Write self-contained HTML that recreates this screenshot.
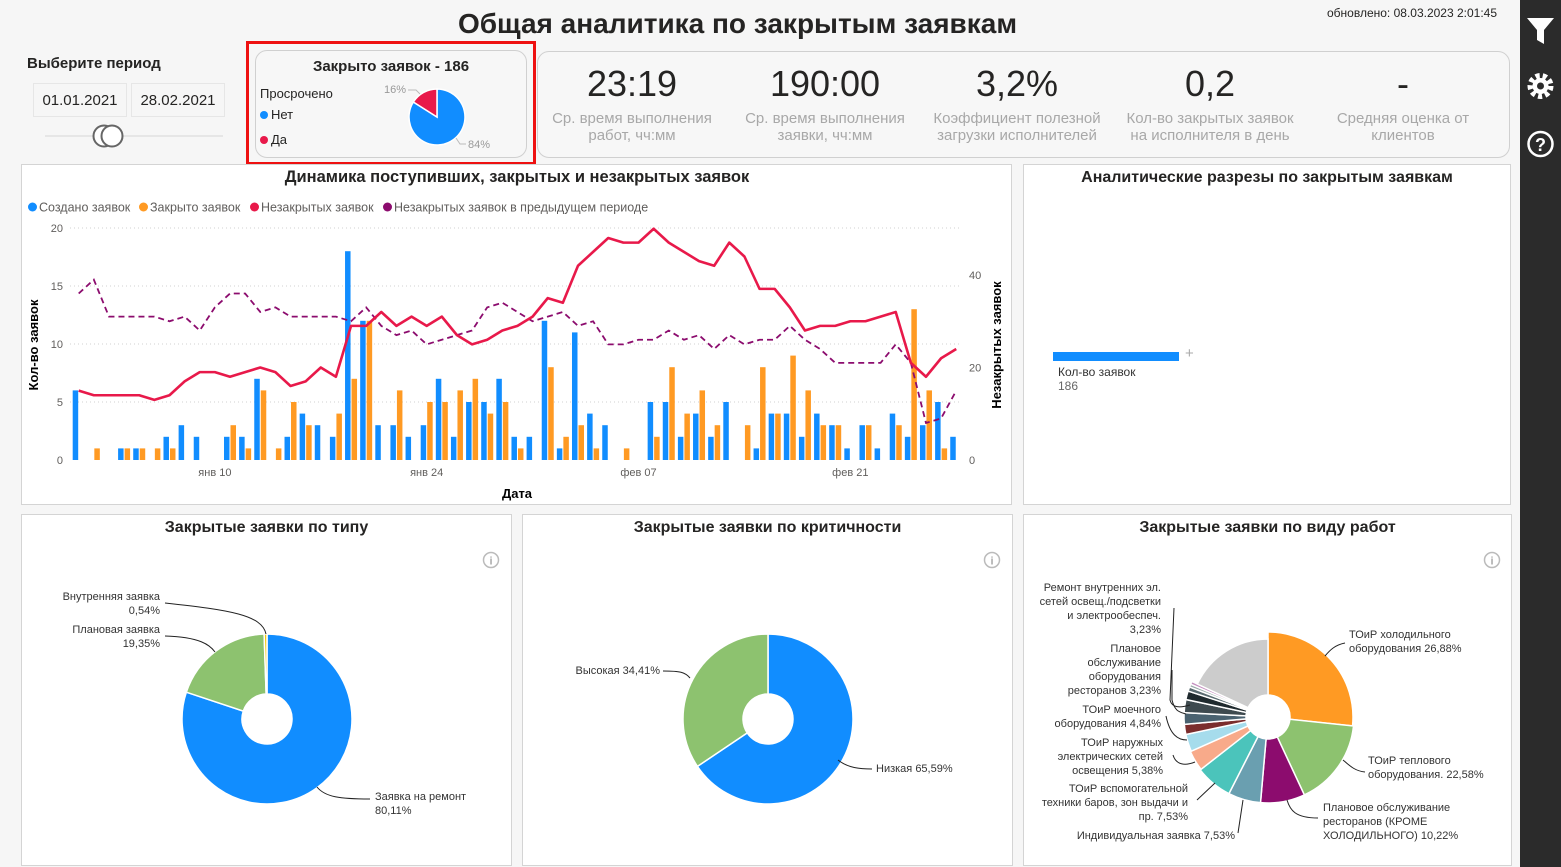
<!DOCTYPE html>
<html><head><meta charset="utf-8">
<style>
body{margin:0;width:1561px;height:867px;background:#f6f6f6;position:relative;overflow:hidden;font-family:"Liberation Sans","Noto Sans CJK SC",sans-serif;color:#252423}
.abs{position:absolute}
.panel{position:absolute;background:#fff;border:1px solid #d4d4d4}
.ptitle{position:absolute;left:0;right:0;text-align:center;font-weight:bold;font-size:16px;top:4px}
.kv{position:absolute;width:190px;text-align:center;font-family:"Liberation Sans Narrow","Liberation Sans",sans-serif}
.kv .v{font-size:36px;color:#252423;line-height:40px}
.kv .l{font-size:15px;color:#a8a8a8;line-height:17px;margin-top:6px}
.dot{display:inline-block;width:8px;height:8px;border-radius:50%;margin-right:3px;vertical-align:0px}
svg text{font-family:"Liberation Sans","Noto Sans CJK SC",sans-serif}
</style></head><body>
<div class="abs" style="left:0;width:1475px;top:8px;text-align:center;font-size:28px;font-weight:bold">Общая аналитика по закрытым заявкам</div>
<div class="abs" style="left:1327px;top:6px;font-size:12px;font-family:'Liberation Sans Narrow','Liberation Sans',sans-serif">обновлено: 08.03.2023 2:01:45</div>

<div class="abs" style="left:1520px;top:0;width:41px;height:867px;background:#2b2b2b"></div>
<svg class="abs" style="left:1520px;top:0" width="41" height="170">
 <g><path d="M7 18 H34 L24 30 V44 L17 40 V30 Z" fill="#fff"/></g>
 <g><circle cx="20.5" cy="86" r="10" fill="none" stroke="#fff" stroke-width="6" stroke-dasharray="4 3"/><circle cx="20.5" cy="86" r="8" fill="#fff"/><circle cx="20.5" cy="86" r="3.5" fill="#2b2b2b"/></g>
 <g><circle cx="20.5" cy="144" r="12" fill="none" stroke="#fff" stroke-width="2.5"/><text x="20.5" y="151" text-anchor="middle" fill="#fff" font-size="18" font-weight="bold">?</text></g>
</svg>

<div class="abs" style="left:27px;top:55px;font-size:15px;font-weight:bold">Выберите период</div>
<div class="abs" style="left:33px;top:83px;width:92px;height:32px;border:1px solid #e6e6e6;font-size:15px;line-height:34px;text-align:center">01.01.2021</div>
<div class="abs" style="left:131px;top:83px;width:92px;height:32px;border:1px solid #e6e6e6;font-size:15px;line-height:34px;text-align:center">28.02.2021</div>
<svg class="abs" style="left:40px;top:122px" width="190" height="30">
 <line x1="5" y1="14" x2="183" y2="14" stroke="#e6e6e6" stroke-width="2"/>
 <circle cx="64" cy="14" r="10.5" fill="#fff" stroke="#666" stroke-width="2"/>
 <circle cx="72" cy="14" r="10.5" fill="#fff" stroke="#666" stroke-width="2"/>
</svg>

<div class="abs" style="left:246px;top:41px;width:284px;height:118px;border:3px solid #ee1111"></div>
<div class="abs" style="left:255px;top:50px;width:270px;height:106px;border:1px solid #d0d0d0;border-radius:12px;background:#f7f7f7"></div>
<div class="abs" style="left:255px;width:272px;top:58px;text-align:center;font-weight:bold;font-size:15px">Закрыто заявок - 186</div>
<div class="abs" style="left:260px;top:86px;font-size:13px">Просрочено</div>
<div class="abs" style="left:260px;top:107px;font-size:13px"><span class="dot" style="background:#118dff"></span>Нет</div>
<div class="abs" style="left:260px;top:132px;font-size:13px"><span class="dot" style="background:#e8194a"></span>Да</div>
<svg class="abs" style="left:380px;top:78px" width="140" height="80" id="minipie"></svg>

<div class="abs" style="left:537px;top:51px;width:971px;height:105px;border:1px solid #d0d0d0;border-radius:12px;background:#f7f7f7"></div>
<div class="kv" style="left:537px;top:64px"><div class="v">23:19</div><div class="l">Ср. время выполнения<br>работ, чч:мм</div></div>
<div class="kv" style="left:730px;top:64px"><div class="v">190:00</div><div class="l">Ср. время выполнения<br>заявки, чч:мм</div></div>
<div class="kv" style="left:922px;top:64px"><div class="v">3,2%</div><div class="l">Коэффициент полезной<br>загрузки исполнителей</div></div>
<div class="kv" style="left:1115px;top:64px"><div class="v">0,2</div><div class="l">Кол-во закрытых заявок<br>на исполнителя в день</div></div>
<div class="kv" style="left:1308px;top:64px"><div class="v">-</div><div class="l">Средняя оценка от<br>клиентов</div></div>

<div class="panel" style="left:21px;top:164px;width:989px;height:339px"></div>
<svg class="abs" style="left:0;top:0" width="1020" height="510" id="main"></svg>

<div class="panel" style="left:1023px;top:164px;width:486px;height:339px">
 <div class="ptitle">Аналитические разрезы по закрытым заявкам</div>
 <div class="abs" style="left:29px;top:187px;width:126px;height:9px;background:#118dff"></div>
 <div class="abs" style="left:161px;top:180px;color:#aaa;font-size:15px">+</div>
 <div class="abs" style="left:34px;top:200px;font-size:12px;color:#333;line-height:14px">Кол-во заявок<br><span style="color:#666">186</span></div>
</div>

<div class="panel" style="left:21px;top:514px;width:489px;height:350px"><div class="ptitle">Закрытые заявки по типу</div></div>
<div class="panel" style="left:522px;top:514px;width:489px;height:350px"><div class="ptitle">Закрытые заявки по критичности</div></div>
<div class="panel" style="left:1023px;top:514px;width:487px;height:350px"><div class="ptitle">Закрытые заявки по виду работ</div></div>
<svg class="abs" style="left:0;top:0" width="1520" height="867" id="pies"></svg>

<script>
const days=["01","02","03","04","05","06","07","08","09","10","11","12","13","14","15","16","17","18","19","20","21","22","23","24","25","26","27","28","29","30","31","01","02","03","04","05","06","07","08","09","10","11","12","13","14","15","16","17","18","19","20","21","22","23","24","25","26","27","28"];
const created=[6,0,0,1,1,0,2,3,2,0,2,2,7,0,2,4,3,2,18,12,3,3,2,3,7,2,5,5,7,2,2,12,1,11,4,3,0,0,5,5,2,4,2,5,0,1,4,4,2,4,3,1,3,1,4,2,3,5,2];
const closed=[0,1,0,1,1,1,1,0,0,0,3,1,6,1,5,3,0,4,7,12,0,6,0,5,5,6,7,4,5,1,0,8,2,3,1,0,1,0,2,8,4,6,3,0,3,8,4,9,6,3,3,0,3,0,3,13,6,1,0];
const unclosed=[15,14,14,14,14,13,14,17,19,19,18,19,20,19,16,17,20,18,29,29,32,29,31,29,31,27,25,26,28,29,31,35,34,42,45,48,47,47,50,47,45,43,42,47,44,37,37,33,28,29,29,30,30,31,32,21,18,22,24];
const prevUnclosed=[36,39,31,31,31,31,30,31,28,33,36,36,32,33,31,31,31,31,30,33,29,27,28,25,26,27,28,33,34,32,30,31,32,29,30,25,25,26,26,28,26,27,24,27,25,26,26,29,26,24,21,21,21,21,25,21,8,9,15];
const leftTicks=[0,5,10,15,20];
const rightTicks=[0,20,40];
const xTickIdx=[9,23,37,51];
const xTickLabels=["янв 10","янв 24","фев 07","фев 21"];

const NS="http://www.w3.org/2000/svg";
function el(parent,tag,attrs,text){const e=document.createElementNS(NS,tag);for(const k in attrs)e.setAttribute(k,attrs[k]);if(text!==undefined)e.textContent=text;parent.appendChild(e);return e;}
const X=i=>78.7+i*15.13;
const YL=v=>460-v*11.6;
const YR=v=>460-v*4.625;
const svg=document.getElementById('main');

let t=el(svg,'text',{x:517,y:182,'text-anchor':'middle','font-size':16.5,'font-weight':'bold',fill:'#252423'},'Динамика поступивших, закрытых и незакрытых заявок');


const legend=[["Создано заявок","#118dff",28],["Закрыто заявок","#ff9a23",139],["Незакрытых заявок","#e8194a",250],["Незакрытых заявок в предыдущем периоде","#8c0c6e",383]];
legend.forEach(l=>{const g=el(svg,'g',{});


el(g,'circle',{cx:l[2]+4.5,cy:207,r:4.5,fill:l[1]});el(g,'text',{x:l[2]+11,y:211.5,'font-size':12.5,fill:'#605e5c'},l[0]);});

leftTicks.forEach(v=>{if(v>0){const g=el(svg,'line',{x1:70,x2:960,y1:YL(v),y2:YL(v),stroke:'#d0d0d0','stroke-dasharray':'1 3'});

}
const tx=el(svg,'text',{x:63,y:YL(v)+4,'text-anchor':'end','font-size':11,fill:'#605e5c'},v);

});
rightTicks.forEach(v=>{const tx=el(svg,'text',{x:969,y:YR(v)+4,'font-size':11,fill:'#605e5c'},v);

});
xTickIdx.forEach((d,k)=>{const tx=el(svg,'text',{x:X(d),y:476,'text-anchor':'middle','font-size':11,fill:'#605e5c'},xTickLabels[k]);

});
t=el(svg,'text',{x:517,y:498,'text-anchor':'middle','font-size':13,'font-weight':'bold'},'Дата');


t=el(svg,'text',{transform:'translate(38,345) rotate(-90)','text-anchor':'middle','font-size':13,'font-weight':'bold'},'Кол-во заявок');


t=el(svg,'text',{transform:'translate(1001,345) rotate(-90)','text-anchor':'middle','font-size':13,'font-weight':'bold'},'Незакрытых заявок');



created.forEach((v,i)=>{if(v>0){const r=el(svg,'rect',{x:X(i)-6,y:YL(v),width:5.5,height:460-YL(v),fill:'#118dff'});

}});
closed.forEach((v,i)=>{if(v>0){const r=el(svg,'rect',{x:X(i)+0.5,y:YL(v),width:5.5,height:460-YL(v),fill:'#ff9a23'});

}});
let p=el(svg,'polyline',{points:prevUnclosed.map((v,i)=>X(i)+','+YR(v)).join(' '),fill:'none',stroke:'#8c0c6e','stroke-width':1.8,'stroke-dasharray':'6 4'});


p=el(svg,'polyline',{points:unclosed.map((v,i)=>X(i)+','+YR(v)).join(' '),fill:'none',stroke:'#e8194a','stroke-width':2.6,'stroke-linejoin':'round'});



function arc(cx,cy,r,ri,a0,a1){const rad=a=>(a-90)*Math.PI/180;const P=(rr,a)=>[cx+rr*Math.cos(rad(a)),cy+rr*Math.sin(rad(a))];const large=(a1-a0)>180?1:0;const [x0,y0]=P(r,a0),[x1,y1]=P(r,a1);
if(ri>0){const [x2,y2]=P(ri,a1),[x3,y3]=P(ri,a0);return `M${x0},${y0}A${r},${r} 0 ${large} 1 ${x1},${y1}L${x2},${y2}A${ri},${ri} 0 ${large} 0 ${x3},${y3}Z`;}
return `M${cx},${cy}L${x0},${y0}A${r},${r} 0 ${large} 1 ${x1},${y1}Z`;}
function pie(svgEl,cx,cy,r,ri,vals,cols,name,radii){const tot=vals.reduce((a,b)=>a+b,0);let a=0;vals.forEach((v,i)=>{const a1=a+v/tot*360;const pth=el(svgEl,'path',{d:arc(cx,cy,radii?radii[i]:r,ri,a,a1),fill:cols[i],stroke:'#fff','stroke-width':1.5});


a=a1;});}

const overdueVals=[84,16];
const mp=document.getElementById('minipie');
pie(mp,57,39,28,0,overdueVals,['#118dff','#e8194a'],'overdue-slice');
el(mp,'text',{x:4,y:15,'font-size':11,fill:'#999'},'16%');el(mp,'polyline',{points:'28,12 36,12 40,16',fill:'none',stroke:'#bbb'});
el(mp,'text',{x:88,y:70,'font-size':11,fill:'#999'},'84%');el(mp,'polyline',{points:'76,60 80,66 86,66',fill:'none',stroke:'#bbb'});

const ps=document.getElementById('pies');
const typeVals=[80.11,19.35,0.54];
pie(ps,267,719,85,25,typeVals,['#118dff','#8dc26f','#f2c80f'],'type-slice');
const critVals=[65.59,34.41];
pie(ps,768,719,85,25,critVals,['#118dff','#8dc26f'],'criticality-slice');
const workVals=[96,59,30,22,25,14,12,7,8,9,6,3,2,2,65];
const workRadii=[85,86,86,86,86,85,84,84,84,84,84,84,84,84,78];
const workCols=['#ff9a23','#8dc26f','#8c0c6e','#6a9fb0','#4bc4bb','#f8aa8a','#a6dcec','#7b2d2d','#4a6270','#3e4a4f','#1f2a2e','#5a6b70','#9aa','#c58fc0','#cccccc'];
pie(ps,1268,717,85,22,workVals,workCols,'worktype-slice',workRadii);

function lbl(x,y,lines,anchor){lines.forEach((s,k)=>{const tx=el(ps,'text',{x:x,y:y+k*14,'text-anchor':anchor,'font-size':11,fill:'#333'},s);

});}
function ln(pts){el(ps,'path',{d:pts,fill:'none',stroke:'#222','stroke-width':1});}
lbl(160,600,['Внутренняя заявка','0,54%'],'end');ln('M165,603 C230,610 262,615 266,634');
lbl(160,633,['Плановая заявка','19,35%'],'end');ln('M165,636 C200,637 210,645 215,652');
lbl(375,800,['Заявка на ремонт','80,11%'],'start');ln('M317,787 C325,797 340,799 370,799');
lbl(660,674,['Высокая 34,41%'],'end');ln('M663,671 C680,671 685,672 690,678');
lbl(876,772,['Низкая 65,59%'],'start');ln('M838,760 C848,768 860,769 872,769');
lbl(1161,591,['Ремонт внутренних эл.','сетей освещ./подсветки','и электрообеспеч.','3,23%'],'end');ln('M1174,608 L1170,700 C1172,708 1180,708 1190,705');
lbl(1161,652,['Плановое','обслуживание','оборудования','ресторанов 3,23%'],'end');ln('M1172,670 L1172,700 C1175,712 1180,712 1186,714');
lbl(1161,713,['ТОиР моечного','оборудования 4,84%'],'end');ln('M1166,716 C1170,735 1178,740 1187,740');
lbl(1163,746,['ТОиР наружных','электрических сетей','освещения 5,38%'],'end');ln('M1173,755 C1176,765 1185,766 1195,762');
lbl(1188,792,['ТОиР вспомогательной','техники баров, зон выдачи и','пр. 7,53%'],'end');ln('M1197,800 L1215,783');
lbl(1235,839,['Индивидуальная заявка 7,53%'],'end');ln('M1238,833 L1243,800');
lbl(1349,638,['ТОиР холодильного','оборудования 26,88%'],'start');ln('M1345,643 C1335,645 1330,650 1325,656');
lbl(1368,764,['ТОиР теплового','оборудования. 22,58%'],'start');ln('M1365,772 C1355,771 1350,766 1343,760');
lbl(1323,811,['Плановое обслуживание','ресторанов (КРОМЕ','ХОЛОДИЛЬНОГО) 10,22%'],'start');ln('M1318,818 C1295,818 1290,810 1287,800');
[491,992,1492].forEach(cx=>{const g=el(ps,'g',{});


el(g,'circle',{cx:cx,cy:560,r:7.5,fill:'none',stroke:'#bbb','stroke-width':1.5});el(g,'text',{x:cx,y:564.5,'text-anchor':'middle','font-size':11,fill:'#aaa','font-weight':'bold'},'i');});
</script>
</body></html>
